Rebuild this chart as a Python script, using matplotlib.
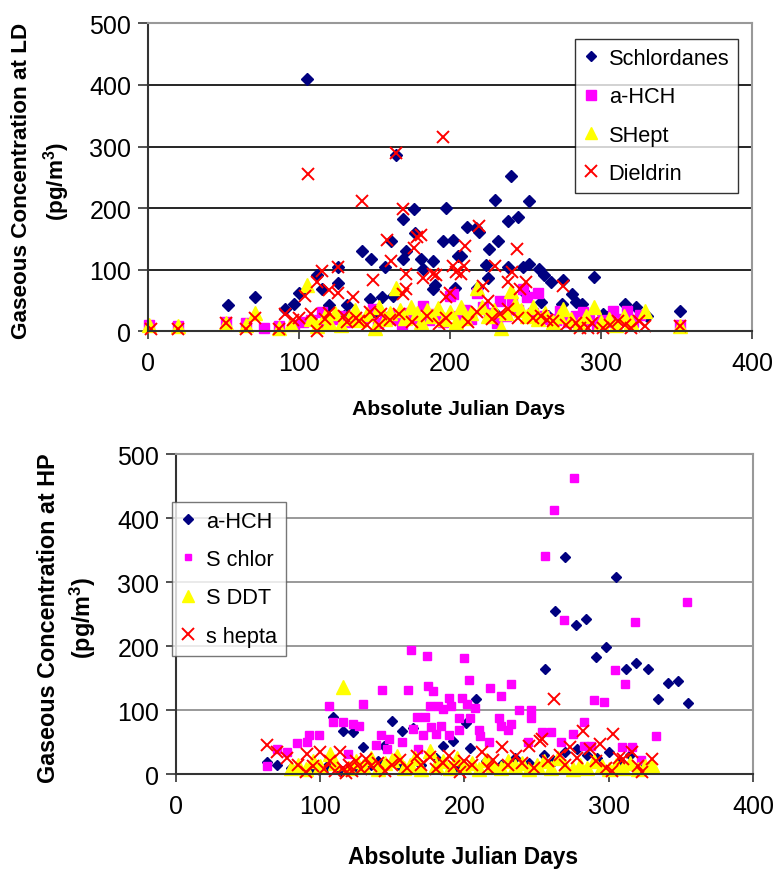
import matplotlib
matplotlib.use("Agg")
import matplotlib.pyplot as plt

plt.rcParams["font.family"] = ["Liberation Sans", "DejaVu Sans"]
plt.rcParams["mathtext.default"] = "regular"

# ---------------------------------------------------------------
# Data (Absolute Julian Day, concentration pg/m3)
# ---------------------------------------------------------------

# LD site
ld_chlor_day = [105, 53, 71, 91, 97, 100, 112, 115, 120, 126, 126, 132, 142, 147, 148, 155, 157,
                161, 162, 164, 169, 169, 171, 176, 177, 181, 182, 189, 189, 190, 195, 197, 202,
                203, 205, 207, 211, 217, 218, 219, 224, 225, 226, 230, 232, 238, 238, 240, 245,
                248, 248, 252, 252, 259, 260, 262, 267, 274, 275, 281, 283, 287, 295, 301, 304,
                316, 323, 352, 108, 130, 150, 185, 210, 230, 265, 290, 310, 330]
ld_chlor_conc = [409, 42, 55, 36, 45, 62, 91, 68, 42, 104, 78, 42, 130, 52, 117, 55, 104,
                 146, 57, 286, 182, 117, 130, 198, 160, 117, 101, 114, 68, 76, 146, 201, 149,
                 71, 122, 122, 169, 167, 71, 162, 107, 86, 133, 214, 146, 179, 104, 253, 185,
                 104, 65, 211, 110, 102, 47, 91, 80, 44, 83, 60, 47, 44, 88, 28, 23,
                 45, 40, 33, 20, 25, 30, 25, 30, 30, 25, 20, 18, 25]

ld_hch_day = [1, 20, 52, 65, 77, 87, 97, 103, 108, 115, 118, 122, 127, 132, 137, 142, 149, 152,
              157, 162, 164, 168, 172, 176, 182, 186, 190, 195, 200, 202, 206, 210, 214, 218,
              222, 226, 231, 233, 237, 241, 245, 248, 251, 255, 258, 262, 266, 270, 273, 278,
              283, 288, 292, 297, 301, 305, 308, 313, 317, 321, 326, 352]
ld_hch_conc = [11, 8, 15, 14, 6, 8, 10, 15, 18, 32, 12, 20, 25, 15, 22, 18, 36, 14,
               24, 20, 27, 12, 30, 22, 41, 18, 28, 15, 57, 60, 25, 35, 20, 63,
               40, 30, 14, 49, 25, 45, 35, 68, 55, 30, 63, 25, 20, 18, 33, 15,
               25, 31, 18, 12, 19, 15, 33, 20, 33, 15, 27, 11]

ld_hept_day = [1, 20, 52, 65, 71, 87, 95, 105, 108, 112, 117, 120, 124, 128, 133, 137, 140, 145,
               150, 153, 157, 160, 164, 167, 170, 174, 178, 181, 185, 188, 192, 196, 200, 204,
               207, 210, 214, 218, 221, 225, 229, 234, 237, 240, 243, 247, 251, 255, 258, 263,
               268, 272, 275, 280, 285, 290, 295, 300, 305, 310, 315, 320, 329, 352]
ld_hept_conc = [10, 8, 14, 10, 30, 6, 12, 76, 20, 8, 25, 15, 30, 10, 22, 35, 18, 28,
                5, 40, 20, 30, 71, 35, 22, 40, 30, 15, 35, 25, 38, 20, 32, 15,
                40, 22, 30, 71, 40, 25, 35, 6, 30, 65, 45, 35, 25, 40, 20, 30,
                15, 25, 36, 20, 12, 25, 39, 15, 20, 10, 25, 15, 33, 8]

ld_diel_day = [2, 20, 52, 65, 71, 87, 91, 96, 100, 104, 106, 108, 112, 112, 115, 120, 120, 126,
               126, 132, 136, 140, 142, 147, 149, 153, 154, 158, 161, 164, 169, 169, 171, 171,
               176, 178, 181, 182, 189, 191, 195, 197, 197, 200, 202, 204, 207, 209, 210, 218,
               219, 222, 225, 230, 238, 238, 241, 244, 245, 246, 250, 255, 260, 264, 268, 275,
               277, 283, 286, 291, 294, 301, 306, 311, 316, 320, 325, 329, 352,
               117, 130, 138, 145, 160, 166, 175, 185, 193, 212, 228, 233]
ld_diel_conc = [3, 3, 13, 3, 21, 3, 28, 19, 22, 57, 256, 28, 0, 80, 98, 29, 67, 104,
                63, 15, 55, 16, 211, 32, 84, 11, 28, 149, 114, 289, 198, 60, 93, 68,
                136, 153, 157, 86, 93, 91, 316, 21, 55, 63, 106, 96, 93, 106, 138, 32,
                171, 73, 49, 106, 80, 36, 96, 133, 22, 68, 80, 22, 25, 19, 16, 73,
                11, 14, 6, 6, 14, 6, 11, 16, 11, 6, 16, 8, 8,
                20, 25, 22, 10, 18, 28, 15, 25, 12, 15, 20, 28]

# HP site
hp_hch_day = [63, 70, 109, 116, 123, 130, 144, 150, 157, 164, 185, 192, 201, 204, 208, 256, 263,
              270, 277, 284, 291, 298, 305, 312, 319, 327, 334, 341, 348, 355,
              80, 95, 105, 115, 125, 135, 140, 155, 170, 180, 195, 215, 225, 235, 245, 255,
              262, 270, 278, 285, 292, 300, 308, 315, 322, 328]
hp_hch_conc = [19, 15, 90, 67, 66, 43, 44, 83, 67, 72, 44, 52, 80, 41, 117, 165, 255,
               339, 233, 242, 183, 198, 308, 165, 173, 165, 117, 142, 145, 111,
               10, 8, 12, 5, 10, 15, 20, 12, 15, 25, 10, 20, 15, 25, 18, 30,
               20, 35, 40, 30, 25, 35, 20, 30, 15, 10]

hp_chlor_day = [63, 70, 77, 84, 91, 92, 99, 106, 109, 116, 119, 123, 127, 130, 139, 142, 143, 146,
                148, 157, 161, 163, 164, 167, 168, 171, 173, 174, 175, 176, 177, 178, 180, 182,
                184, 185, 189, 189, 191, 196, 196, 198, 200, 202, 203, 204, 207, 210, 211, 217,
                218, 224, 225, 225, 230, 232, 232, 238, 244, 246, 246, 254, 256, 260, 262, 267,
                269, 275, 276, 283, 283, 288, 290, 297, 304, 309, 311, 316, 318, 322, 333, 354]
hp_chlor_conc = [13, 39, 34, 48, 50, 61, 61, 107, 81, 81, 31, 78, 75, 109, 45, 61, 132, 39,
                 55, 50, 132, 194, 71, 89, 39, 61, 89, 185, 138, 107, 73, 130, 62, 106,
                 75, 102, 119, 61, 106, 87, 69, 119, 181, 109, 147, 87, 103, 69, 59, 50,
                 134, 87, 122, 75, 69, 141, 78, 100, 50, 100, 87, 66, 341, 66, 413, 50,
                 240, 62, 463, 81, 44, 44, 116, 113, 163, 42, 141, 42, 237, 22, 59, 269]

hp_ddt_day = [80, 85, 90, 95, 100, 107, 110, 116, 120, 125, 130, 135, 140, 145, 150, 153, 158,
              162, 166, 170, 176, 180, 185, 190, 195, 200, 205, 210, 215, 220, 225, 230, 235,
              240, 245, 250, 255, 260, 265, 270, 275, 280, 285, 290, 295, 300, 305, 310, 315,
              320, 325, 330]
hp_ddt_conc = [10, 15, 8, 20, 12, 31, 18, 136, 10, 20, 12, 25, 8, 18, 22, 28, 10,
               15, 25, 8, 36, 15, 20, 10, 25, 12, 18, 8, 22, 15, 10, 20, 12,
               18, 8, 15, 20, 10, 25, 12, 8, 15, 10, 20, 12, 8, 15, 10, 18,
               8, 12, 15]

hp_hepta_day = [63, 70, 77, 85, 90, 91, 95, 100, 103, 107, 110, 114, 116, 118, 120, 122, 125, 128,
                132, 135, 140, 145, 150, 155, 160, 167, 170, 176, 180, 185, 189, 193, 197, 200,
                205, 212, 216, 220, 226, 230, 236, 240, 245, 248, 252, 254, 258, 262, 266, 270,
                273, 278, 282, 287, 291, 294, 298, 302, 303, 307, 310, 316, 320, 323, 330]
hp_hepta_conc = [45, 34, 26, 15, 3, 31, 12, 34, 8, 20, 5, 34, 10, 2, 15, 5, 20, 8,
                 23, 12, 18, 5, 15, 22, 10, 28, 15, 27, 8, 18, 28, 12, 3, 20,
                 15, 34, 10, 22, 42, 15, 28, 18, 44, 10, 52, 55, 20, 117, 30, 15,
                 42, 25, 67, 39, 20, 47, 10, 5, 62, 25, 23, 34, 12, 3, 23]

NAVY = "#000080"
MAGENTA = "#FF00FF"
YELLOW = "#FFFF00"
RED = "#FF0000"


def style_axes(ax, grid_color):
    ax.set_xlim(0, 400)
    ax.set_ylim(0, 500)
    ax.set_xticks([0, 100, 200, 300, 400])
    ax.set_yticks([0, 100, 200, 300, 400, 500])
    ax.yaxis.grid(True, color=grid_color, linewidth=1.2)
    ax.set_axisbelow(True)
    for side in ("left", "bottom"):
        ax.spines[side].set_color("#333333")
        ax.spines[side].set_linewidth(1.5)
    for side in ("top", "right"):
        ax.spines[side].set_color("#999999")
        ax.spines[side].set_linewidth(1.5)
    ax.tick_params(axis="x", direction="out", length=5.5, width=1.2, pad=9,
                   labelsize=18, color="#333333")
    ax.tick_params(axis="y", direction="out", length=7, width=1.2, pad=5,
                   labelsize=18, color="#333333")


def add_legend(ax, anchor, edge):
    leg = ax.legend(loc="upper left", bbox_to_anchor=anchor,
                    bbox_transform=fig.transFigure, fontsize=15.7, frameon=True,
                    fancybox=False, edgecolor=edge, handlelength=0.7,
                    handletextpad=0.45, borderpad=0.4, labelspacing=0.8,
                    borderaxespad=0, markerscale=0.9, handleheight=0.7)
    leg.get_frame().set_linewidth(1.0)
    return leg


fig = plt.figure(figsize=(7.78, 8.70), dpi=100)

# ---------------- top: LD ----------------
ax1 = fig.add_axes([0.190, 0.618, 0.777, 0.354])
style_axes(ax1, "black")
ax1.plot(ld_chlor_day, ld_chlor_conc, "D", color=NAVY, ms=6, ls="none",
         clip_on=False, label="Schlordanes")
ax1.plot(ld_hch_day, ld_hch_conc, "s", color=MAGENTA, ms=7.5, ls="none",
         clip_on=False, label="a-HCH")
ax1.plot(ld_hept_day, ld_hept_conc, "^", color=YELLOW, ms=9.5, ls="none",
         clip_on=False, label="SHept")
ax1.plot(ld_diel_day, ld_diel_conc, "x", color=RED, ms=9, mew=1.4, ls="none",
         clip_on=False, label="Dieldrin")
add_legend(ax1, (0.739, 0.954), "black")

fig.text(0.589, 0.529, "Absolute Julian Days", ha="center", va="center",
         fontsize=15.2, fontweight="bold")
fig.text(0.053, 0.792, "Gaseous Concentration at LD\n(pg/m$^3$)", rotation=90,
         ha="center", va="center", multialignment="center", fontsize=16.2,
         fontweight="bold", linespacing=1.4)

# ---------------- bottom: HP ----------------
ax2 = fig.add_axes([0.226, 0.109, 0.742, 0.368])
style_axes(ax2, "#888888")
ax2.plot(hp_hch_day, hp_hch_conc, "D", color=NAVY, ms=5.5, ls="none",
         clip_on=False, label="a-HCH")
ax2.plot(hp_chlor_day, hp_chlor_conc, "s", color=MAGENTA, ms=5.5, ls="none",
         clip_on=False, label="S chlor")
ax2.plot(hp_ddt_day, hp_ddt_conc, "^", color=YELLOW, ms=9.5, ls="none",
         clip_on=False, label="S DDT")
ax2.plot(hp_hepta_day, hp_hepta_conc, "x", color=RED, ms=9, mew=1.4, ls="none",
         clip_on=False, label="s hepta")
add_legend(ax2, (0.221, 0.422), "#555555")

fig.text(0.595, 0.014, "Absolute Julian Days", ha="center", va="center",
         fontsize=16.4, fontweight="bold")
fig.text(0.087, 0.290, "Gaseous Concentration at HP\n(pg/m$^3$)", rotation=90,
         ha="center", va="center", multialignment="center", fontsize=16.8,
         fontweight="bold", linespacing=1.35)

fig.savefig("out.png", dpi=100)
